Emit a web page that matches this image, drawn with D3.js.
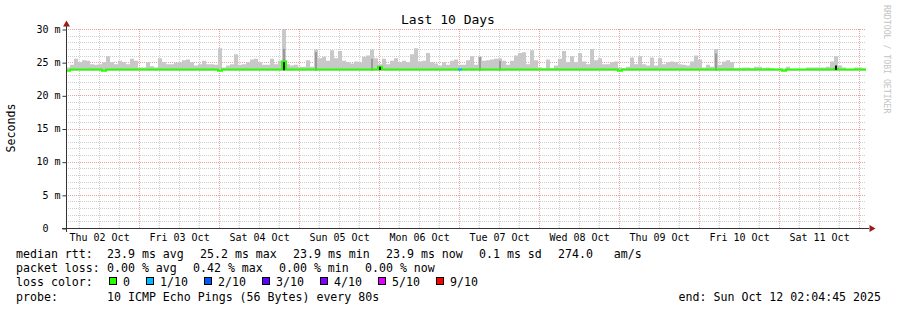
<!DOCTYPE html>
<html>
<head>
<meta charset="utf-8">
<script src="https://cdn.jsdelivr.net/npm/d3@7"></script>
<style>
  body { margin: 0; background: #fff; }
  svg { display: block; }
  text { font-family: "DejaVu Sans Mono", monospace; white-space: pre; }
</style>
</head>
<body>
<svg id="chart" width="897" height="310"></svg>
<script>
const startTime = new Date(2025, 9, 2, 2, 4, 45);
const endTime = new Date(2025, 9, 12, 2, 4, 45);
const stepMinutes = 72;

// top of the smoke (max rtt per step, ms)
const smokeTop = [
  24.2, 24.6, 25.5, 25.0, 25.3, 25.2, 24.7, 24.6, 24.7, 25.0,
  25.9, 25.0, 24.7, 25.2, 25.0, 24.7, 25.5, 25.2, 24.2, 24.2,
  25.0, 24.4, 24.2, 25.6, 25.0, 24.7, 24.7, 24.9, 25.0, 25.3,
  25.4, 25.0, 24.5, 24.7, 25.2, 24.7, 24.7, 24.6, 27.1, 24.2,
  24.5, 24.7, 26.2, 24.6, 24.7, 25.0, 25.4, 25.5, 25.0, 24.6,
  24.6, 25.5, 24.7, 25.2, 30.0, 24.7, 24.5, 24.6, 24.3, 24.3,
  25.3, 24.3, 26.9, 25.6, 25.8, 25.2, 26.8, 25.6, 26.7, 25.2,
  25.0, 24.8, 25.1, 25.0, 25.8, 26.0, 26.9, 25.6, 24.7, 25.5,
  24.7, 25.2, 25.6, 25.0, 25.2, 25.0, 26.2, 27.1, 25.1, 25.2,
  26.4, 25.0, 24.8, 24.5, 25.0, 24.6, 25.2, 25.4, 24.6, 24.6,
  25.3, 25.9, 24.6, 25.8, 25.2, 25.3, 25.4, 25.5, 25.6, 25.2,
  24.6, 25.2, 26.0, 26.4, 26.5, 24.7, 26.8, 25.3, 24.2, 24.1,
  25.4, 24.1, 24.5, 25.5, 26.7, 25.0, 25.9, 25.0, 26.4, 25.1,
  24.7, 27.0, 25.3, 25.6, 24.7, 24.7, 25.0, 25.1, 24.2, 24.1,
  24.3, 25.7, 24.7, 25.9, 24.7, 24.5, 25.7, 24.5, 25.6, 24.7,
  25.0, 25.1, 25.0, 24.7, 24.6, 24.5, 25.1, 26.0, 25.4, 24.2,
  24.6, 24.3, 27.0, 24.6, 25.1, 25.3, 25.0, 24.1, 24.1, 24.2,
  24.2, 24.1, 24.3, 24.3, 24.1, 24.2, 24.1, 24.0, 24.0, 24.0,
  24.3, 23.9, 23.9, 23.9, 23.9, 24.2, 24.2, 24.2, 24.2, 24.2,
  24.3, 25.1, 25.9, 24.5, 24.2, 23.9, 23.9, 24.2, 24.2, 24.1
];
const smokeFloor = 23.7;

// median rtt per step, ms
const median = [
  23.7, 23.9, 23.9, 23.9, 23.9, 23.9, 23.9, 23.9, 23.9, 23.7,
  23.9, 23.9, 23.9, 23.9, 23.9, 23.9, 23.9, 23.9, 23.9, 23.9,
  23.9, 23.9, 23.9, 23.9, 23.9, 23.9, 23.9, 23.9, 23.9, 23.9,
  23.9, 23.9, 23.9, 23.9, 23.9, 23.9, 23.9, 23.9, 23.7, 23.9,
  23.9, 23.9, 23.9, 23.9, 23.9, 23.9, 23.9, 23.9, 23.9, 23.9,
  23.9, 23.9, 23.9, 23.9, 25.1, 23.9, 23.9, 23.9, 23.9, 23.9,
  23.9, 23.9, 23.9, 23.9, 23.9, 23.9, 23.9, 23.9, 23.9, 23.9,
  23.9, 23.9, 23.9, 23.9, 23.9, 23.9, 23.9, 23.9, 24.3, 23.9,
  23.9, 23.9, 23.9, 23.9, 23.9, 23.9, 23.9, 23.9, 23.9, 23.9,
  23.9, 23.9, 23.9, 23.9, 23.9, 23.9, 23.9, 23.9, 23.9, 23.9,
  23.9, 23.9, 23.9, 23.9, 23.9, 23.9, 23.9, 23.9, 23.9, 23.9,
  23.9, 23.9, 23.9, 23.9, 23.9, 23.9, 23.9, 23.9, 23.9, 23.9,
  23.9, 23.9, 23.9, 23.9, 23.9, 23.9, 23.9, 23.9, 23.9, 23.9,
  23.9, 23.9, 23.9, 23.9, 23.9, 23.9, 23.9, 23.9, 23.7, 23.9,
  23.9, 23.9, 23.9, 23.9, 23.9, 23.9, 23.9, 23.9, 23.9, 23.9,
  23.9, 23.9, 23.9, 23.9, 23.9, 23.9, 23.9, 23.9, 23.9, 23.9,
  23.9, 23.9, 23.9, 23.9, 23.9, 23.9, 23.9, 23.9, 23.9, 23.9,
  23.9, 23.9, 23.9, 23.9, 23.9, 23.9, 23.9, 23.9, 23.9, 23.7,
  23.9, 23.9, 23.9, 23.9, 23.9, 23.9, 23.9, 23.9, 23.9, 23.9,
  23.9, 23.9, 24.0, 23.9, 23.9, 23.9, 23.9, 23.9, 23.9, 23.9
];

// steps with packet loss (index into lossColors)
const lossBins = [98];
const lossLevels = [1];

// darker smoke patches near the median
const midBins = [54, 62, 76, 103, 108, 162];
const midTops = [27.0, 26.5, 25.5, 25.8, 25.2, 26.3];
const blackBins = [54, 78, 192];
const blackTops = [25.0, 24.3, 24.5];

const yTicks = [0, 5, 10, 15, 20, 25, 30];
const yTickLabels = ["0  ", "5 m", "10 m", "15 m", "20 m", "25 m", "30 m"];
const dayLabels = ["Thu 02 Oct", "Fri 03 Oct", "Sat 04 Oct", "Sun 05 Oct", "Mon 06 Oct",
  "Tue 07 Oct", "Wed 08 Oct", "Thu 09 Oct", "Fri 10 Oct", "Sat 11 Oct"];

const lossNames = ["0", "1/10", "2/10", "3/10", "4/10", "5/10", "9/10"];
const lossColors = ["#26ff00", "#00b8ff", "#0059ff", "#5e00ff", "#7e00ff", "#dd00ff", "#ff0000"];

const rttStats = ["23.9 ms avg", "25.2 ms max", "23.9 ms min", "23.9 ms now", "0.1 ms sd", "274.0   am/s"];
const lossStats = ["0.00 % avg", "0.42 % max", "0.00 % min", "0.00 % now"];
const probeText = "10 ICMP Echo Pings (56 Bytes) every 80s";
const endText = "end: Sun Oct 12 02:04:45 2025";

const svg = d3.select("#chart");
const charW = 7;

const x = d3.scaleTime().domain([startTime, endTime]).range([66, 866]);
const y = d3.scaleLinear().domain([0, 30]).range([228, 29]);
const px = v => Math.round(v) + 0.5;

const binTimes = smokeTop.map((_, i) => d3.timeMinute.offset(startTime, i * stepMinutes));
const binEnd = i => (i + 1 < binTimes.length ? binTimes[i + 1] : endTime);

// grid
const grid = svg.append("g");
const minorY = d3.range(1, 30).filter(v => v % 5 !== 0);
grid.selectAll(".hmin").data(minorY).join("line")
  .attr("x1", 66).attr("x2", 866)
  .attr("y1", d => px(y(d))).attr("y2", d => px(y(d)))
  .attr("stroke", "#cfcfcf").attr("stroke-dasharray", "1,1");
const sixHours = d3.timeHour.every(6).range(startTime, endTime).filter(d => d.getHours() !== 0);
grid.selectAll(".vmin").data(sixHours).join("line")
  .attr("x1", d => px(x(d))).attr("x2", d => px(x(d)))
  .attr("y1", 29).attr("y2", 228)
  .attr("stroke", "#cfcfcf").attr("stroke-dasharray", "1,1");
grid.selectAll(".hmaj").data(yTicks.slice(1)).join("line")
  .attr("x1", 66).attr("x2", 866)
  .attr("y1", d => px(y(d))).attr("y2", d => px(y(d)))
  .attr("stroke", "#e8a0a0").attr("stroke-dasharray", "1,1");
grid.selectAll(".vmaj").data(d3.timeDay.range(startTime, endTime)).join("line")
  .attr("x1", d => px(x(d))).attr("x2", d => px(x(d)))
  .attr("y1", 29).attr("y2", 228)
  .attr("stroke", "#e8a0a0").attr("stroke-dasharray", "1,1");

// smoke
const smokePts = smokeTop.map((v, i) => ({ t: binTimes[i], v }));
smokePts.push({ t: endTime, v: smokeTop[smokeTop.length - 1] });
svg.append("path")
  .datum(smokePts)
  .attr("fill", "#c8c8c8")
  .attr("d", d3.area().curve(d3.curveStepAfter)
    .x(d => x(d.t)).y0(y(smokeFloor)).y1(d => y(d.v)));

svg.selectAll(".mid").data(midBins).join("rect")
  .attr("x", b => x(binTimes[b]) + 1)
  .attr("width", b => x(binEnd(b)) - x(binTimes[b]) - 2)
  .attr("y", (b, i) => y(midTops[i]))
  .attr("height", (b, i) => y(smokeFloor) - y(midTops[i]))
  .attr("fill", "#9a9a9a");

// median line
const medPts = median.map((v, i) => ({ t: binTimes[i], v }));
medPts.push({ t: endTime, v: median[median.length - 1] });
svg.append("path")
  .datum(medPts)
  .attr("fill", "none")
  .attr("stroke", lossColors[0])
  .attr("stroke-width", 2)
  .attr("d", d3.line().curve(d3.curveStepAfter).x(d => x(d.t)).y(d => y(d.v)));

svg.selectAll(".loss").data(lossBins).join("line")
  .attr("x1", b => x(binTimes[b])).attr("x2", b => x(binEnd(b)))
  .attr("y1", b => y(median[b])).attr("y2", b => y(median[b]))
  .attr("stroke", (b, i) => lossColors[lossLevels[i]])
  .attr("stroke-width", 2);

svg.selectAll(".blk").data(blackBins).join("rect")
  .attr("x", b => x(binTimes[b]) + 1)
  .attr("width", 2)
  .attr("y", (b, i) => y(blackTops[i]))
  .attr("height", (b, i) => y(23.8) - y(blackTops[i]))
  .attr("fill", "#111");

// axes
const yAxis = svg.append("g")
  .attr("transform", "translate(66.5,0)")
  .call(d3.axisLeft(y).tickValues(yTicks).tickFormat((d, i) => yTickLabels[i]).tickSize(4).tickPadding(2));
yAxis.select(".domain").remove();
yAxis.selectAll("line").attr("stroke", "#333").attr("transform", "translate(0,0.5)");
yAxis.selectAll("text").attr("font-size", 10).attr("fill", "#000")
  .attr("font-family", "DejaVu Sans Mono");

const noons = d3.timeDay.range(startTime, endTime).map(d => d3.timeHour.offset(d, -12));
const xAxis = svg.append("g")
  .attr("transform", "translate(0,228)")
  .call(d3.axisBottom(x).tickValues(noons).tickFormat((d, i) => dayLabels[i]).tickSize(0).tickPadding(6));
xAxis.select(".domain").remove();
xAxis.selectAll("text").attr("font-size", 10).attr("fill", "#000")
  .attr("font-family", "DejaVu Sans Mono");

svg.append("line").attr("x1", 62).attr("x2", 869).attr("y1", 228.5).attr("y2", 228.5).attr("stroke", "#333");
svg.append("line").attr("x1", 66.5).attr("x2", 66.5).attr("y1", 232).attr("y2", 26).attr("stroke", "#333");
svg.append("path").attr("d", "M66.5,20.5L63,26.5L70,26.5Z").attr("fill", "#9b1b1b");
svg.append("path").attr("d", "M875.5,228.5L869.5,225L869.5,232Z").attr("fill", "#9b1b1b");

// title and labels
svg.append("text").attr("x", 448).attr("y", 24).attr("text-anchor", "middle")
  .attr("font-size", 13).text("Last 10 Days");
svg.append("text").attr("transform", "translate(15,128) rotate(-90)")
  .attr("text-anchor", "middle").attr("font-size", 11.6).text("Seconds");
svg.append("text").attr("transform", "translate(884,5) rotate(90)")
  .attr("font-size", 8.2).attr("fill", "#c4c4c4").text("RRDTOOL / TOBI OETIKER");

// legend
const legend = svg.append("g").attr("font-size", 11.6).attr("fill", "#000");
const rows = [258, 272.2, 286.4, 300.6];
const placeRow = (items, y0) => {
  let cx = 107;
  items.forEach(s => {
    legend.append("text").attr("x", cx).attr("y", y0).text(s);
    cx += s.length * charW + 16;
  });
};
legend.append("text").attr("x", 16).attr("y", rows[0]).text("median rtt:");
placeRow(rttStats, rows[0]);
legend.append("text").attr("x", 16).attr("y", rows[1]).text("packet loss:");
placeRow(lossStats, rows[1]);
legend.append("text").attr("x", 16).attr("y", rows[2]).text("loss color:");
let bx = 109;
lossNames.forEach((name, i) => {
  legend.append("rect").attr("x", bx + 0.5).attr("y", 277.5).attr("width", 7).attr("height", 7)
    .attr("fill", lossColors[i]).attr("stroke", "#000");
  legend.append("text").attr("x", bx + 14).attr("y", rows[2]).text(name);
  bx += 14 + name.length * charW + 16;
});
legend.append("text").attr("x", 16).attr("y", rows[3]).text("probe:");
legend.append("text").attr("x", 107).attr("y", rows[3]).text(probeText);
legend.append("text").attr("x", 881).attr("y", rows[3]).attr("text-anchor", "end").text(endText);
</script>
</body>
</html>
